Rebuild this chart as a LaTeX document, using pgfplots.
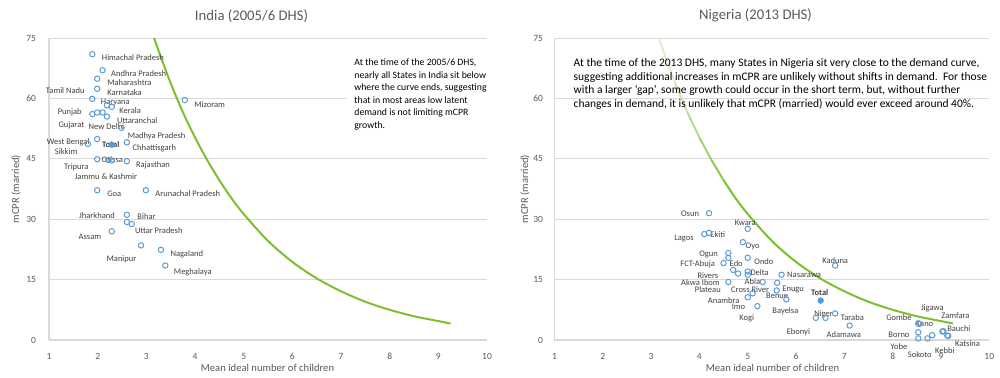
\documentclass[border=0pt]{standalone}
\usepackage{fontspec}
\setmainfont{Carlito}
\usepackage{pgfplots}
\pgfplotsset{compat=1.18}
\definecolor{ptblue}{RGB}{91,155,213}
\definecolor{curvegreen}{RGB}{125,190,50}
\definecolor{gridgrey}{RGB}{217,217,217}
\definecolor{ticktext}{RGB}{89,89,89}
\definecolor{labeltext}{RGB}{64,64,64}
\pgfplotsset{
  dhs/.style={
    scale only axis, height=151pt,
    xmin=1, xmax=10, ymin=0, ymax=75,
    xtick={1,2,...,10}, ytick={0,15,30,45,60,75},
    axis x line*=bottom, axis y line*=left,
    axis line style={gridgrey, line width=0.6pt},
    ymajorgrids, grid style={gridgrey, line width=0.5pt},
    major tick length=0pt,
    tick label style={font=\fontsize{4.75}{5}\selectfont, text=ticktext},
    xticklabel style={yshift=-3pt},
    /pgf/number format/assume math mode=true,
    clip=false,
  },
  pts/.style={only marks, mark=o, mark size=1.35pt, mark options={draw=ptblue, fill=white, line width=0.5pt}},
  tot/.style={only marks, mark=*, mark size=1.35pt, mark options={draw=ptblue, fill=ptblue, line width=0.5pt}},
}
\tikzset{lbl/.style={font=\fontsize{4.25}{5}\selectfont, text=labeltext, inner sep=0pt, text height=0.66em, text depth=0pt}}
\newcommand{\lab}[4]{\node[lbl,anchor=#3] at (axis cs:#1,#2) {#4};}
\begin{document}
\begin{tikzpicture}
\path[use as bounding box] (0,0) rectangle (500pt,188.5pt);
% ---------------- India ----------------
\begin{axis}[dhs, at={(24.5pt,18.5pt)}, anchor=south west, width=219pt,
  yticklabel style={xshift=-3pt}]
\addplot[curvegreen, line width=1pt, smooth] coordinates {
(3.16,75) (3.3,70.2) (3.5,63.8) (3.75,56.6) (4.0,50.3) (4.25,44.7) (4.5,39.7) (4.75,35.2) (5.0,31.3) (5.5,24.6) (6.0,19.4) (6.5,15.3) (7.0,12.1) (7.5,9.5) (8.0,7.5) (8.5,5.9) (9.0,4.7) (9.25,4.1)};
\addplot[pts] coordinates {
(1.89,71.0) (2.10,67.0) (1.99,64.9) (1.99,62.4) (1.89,59.9) (3.79,59.6)
(2.19,58.3) (2.29,57.9) (1.89,56.1) (1.99,56.5) (2.10,56.5) (2.19,55.5)
(2.49,52.7) (1.99,49.9) (1.80,48.7) (2.60,49.1) (1.99,44.9) (2.29,44.6)
(2.22,44.7) (2.60,44.4) (1.99,37.2) (2.99,37.2) (2.60,31.1) (2.60,29.3)
(2.70,28.8) (2.29,27.0) (2.89,23.5) (3.30,22.4) (3.39,18.5)};
\addplot[tot] coordinates {(2.29,48.5)};
\lab{2.08}{71.0}{west}{Himachal Pradesh}
\lab{2.27}{67.0}{west}{Andhra Pradesh}
\lab{2.19}{64.9}{west}{Maharashtra}
\lab{2.19}{62.4}{west}{Karnataka}
\lab{1.74}{62.9}{east}{Tamil Nadu}
\lab{2.06}{60.2}{west}{Haryana}
\lab{3.98}{59.5}{west}{Mizoram}
\lab{1.68}{57.7}{east}{Punjab}
\lab{2.44}{57.9}{west}{Kerala}
\lab{1.73}{54.5}{east}{Gujarat}
\lab{2.18}{54.0}{center}{New Delhi}
\lab{2.39}{55.5}{west}{Uttaranchal}
\lab{2.61}{51.8}{west}{Madhya Pradesh}
\lab{1.84}{50.1}{east}{West Bengal}
\lab{1.59}{47.7}{east}{Sikkim}
\lab{2.27}{49.4}{center}{\textbf{Total}}
\lab{2.71}{48.7}{west}{Chhattisgarh}
\lab{2.30}{45.8}{center}{Orissa}
\lab{1.82}{43.9}{east}{Tripura}
\lab{2.78}{44.4}{west}{Rajasthan}
\lab{2.17}{41.5}{center}{Jammu \& Kashmir}
\lab{2.19}{37.2}{west}{Goa}
\lab{3.18}{37.2}{west}{Arunachal Pradesh}
\lab{2.36}{31.7}{east}{Jharkhand}
\lab{2.81}{31.5}{west}{Bihar}
\lab{2.76}{28.1}{west}{Uttar Pradesh}
\lab{2.08}{26.6}{east}{Assam}
\lab{2.49}{21.1}{center}{Manipur}
\lab{3.49}{22.4}{west}{Nagaland}
\lab{3.56}{17.8}{west}{Meghalaya}
\end{axis}
% India text box
\fill[white] (173.5pt,167.5pt) rectangle (247.5pt,110pt);
\begin{scope}[every node/.style={anchor=base west, inner sep=0pt, font=\fontsize{4.875}{6}\selectfont, text=black}]
\node at (177pt,155.55pt) {At the time of the 2005/6 DHS,};
\node at (177pt,149.4pt) {nearly all States in India sit below};
\node at (177pt,143.25pt) {where the curve ends, suggesting};
\node at (177pt,136.9pt) {that in most areas low latent};
\node at (177pt,130.75pt) {demand is not limiting mCPR};
\node at (177pt,124.4pt) {growth.};
\end{scope}
% ---------------- Nigeria ----------------
\begin{axis}[dhs, at={(277.2pt,18.5pt)}, anchor=south west, width=217.45pt,
  yticklabel style={xshift=-2.2pt}]
\addplot[curvegreen!25, line width=1pt] coordinates {(3.16,75) (3.3,70.2) (3.5,63.8)};
\addplot[curvegreen!40, line width=1pt] coordinates {(3.5,63.8) (3.75,56.6)};
\addplot[curvegreen!55, line width=1pt] coordinates {(3.75,56.6) (4.0,50.3)};
\addplot[curvegreen!70, line width=1pt] coordinates {(4.0,50.3) (4.25,44.7)};
\addplot[curvegreen!85, line width=1pt] coordinates {(4.25,44.7) (4.5,39.7)};
\addplot[curvegreen, line width=1pt, smooth] coordinates {
(4.5,39.7) (4.75,35.2) (5.0,31.3) (5.5,24.6) (6.0,19.4) (6.5,15.3) (7.0,12.1) (7.5,9.5) (8.0,7.5) (8.5,5.9) (9.0,4.7) (9.25,4.1)};
\addplot[pts] coordinates {
(4.20,31.5) (5.00,27.6) (4.10,26.3) (4.20,26.6) (4.90,24.3) (4.60,21.6)
(4.60,20.4) (5.00,20.4) (4.50,19.1) (4.70,17.4) (4.80,16.5) (5.00,17.0)
(5.00,16.2) (5.70,16.2) (6.81,18.5) (4.60,14.4) (5.31,14.4) (5.61,14.2)
(5.60,12.3) (5.00,10.6) (5.10,11.6) (5.80,10.1) (5.20,8.4) (6.61,5.5)
(6.41,5.5) (6.81,6.6) (7.11,3.6) (8.53,4.1) (8.55,4.0) (8.53,1.9)
(8.53,0.4) (8.72,0.4) (8.82,1.2) (9.03,2.1) (9.05,2.2) (9.13,1.1) (9.15,1.0)};
\addplot[tot] coordinates {(6.51,9.8)};
\lab{4.00}{32.4}{east}{Osun}
\lab{4.95}{30.0}{center}{Kwara}
\lab{3.89}{26.3}{east}{Lagos}
\lab{4.22}{27.1}{west}{Ekiti}
\lab{4.95}{24.3}{west}{Oyo}
\lab{4.19}{22.5}{center}{Ogun}
\lab{4.33}{20.0}{east}{FCT-Abuja}
\lab{4.62}{19.8}{west}{Edo}
\lab{5.13}{20.5}{west}{Ondo}
\lab{4.40}{17.0}{east}{Rivers}
\lab{5.05}{17.6}{west}{Delta}
\lab{4.43}{15.3}{east}{Akwa Ibom}
\lab{4.93}{15.5}{west}{Abia}
\lab{5.81}{17.1}{west}{Nasarawa}
\lab{6.81}{20.7}{center}{Kaduna}
\lab{4.45}{13.5}{east}{Plateau}
\lab{5.05}{13.4}{center}{Cross River}
\lab{5.71}{13.7}{west}{Enugu}
\lab{5.61}{11.9}{center}{Benue}
\lab{6.49}{12.7}{center}{\textbf{Total}}
\lab{4.84}{10.8}{east}{Anambra}
\lab{4.81}{9.3}{center}{Imo}
\lab{5.78}{8.3}{center}{Bayelsa}
\lab{5.14}{6.6}{east}{Kogi}
\lab{6.57}{7.4}{center}{Niger}
\lab{6.92}{6.6}{west}{Taraba}
\lab{6.05}{3.1}{center}{Ebonyi}
\lab{6.99}{2.3}{center}{Adamawa}
\lab{8.82}{8.9}{center}{Jigawa}
\lab{9.30}{6.9}{center}{Zamfara}
\lab{8.13}{6.6}{center}{Gombe}
\lab{8.66}{5.0}{center}{Kano}
\lab{9.37}{3.7}{center}{Bauchi}
\lab{8.13}{2.3}{center}{Borno}
\lab{9.55}{0.0}{center}{Katsina}
\lab{8.13}{-0.6}{center}{Yobe}
\lab{9.08}{-1.8}{center}{Kebbi}
\lab{8.56}{-2.7}{center}{Sokoto}
\end{axis}
% Nigeria text
\begin{scope}[every node/.style={anchor=base west, inner sep=0pt, font=\fontsize{5.75}{6.7}\selectfont, text=black}]
\node at (286.65pt,155.1pt) {At the time of the 2013 DHS, many States in Nigeria sit very close to the demand curve,};
\node at (286.65pt,148.25pt) {suggesting additional increases in mCPR are unlikely without shifts in demand.\ \ For those};
\node at (286.65pt,141.6pt) {with a larger ‘gap’, some growth could occur in the short term, but, without further};
\node at (286.65pt,134.95pt) {changes in demand, it is unlikely that mCPR (married) would ever exceed around 40\%.};
\end{scope}
% titles and axis labels
\begin{scope}[every node/.style={inner sep=0pt, text=ticktext}]
\node[font=\fontsize{7.35}{8}\selectfont] at (125.75pt,180.5pt) {India (2005/6 DHS)};
\node[font=\fontsize{7.35}{8}\selectfont] at (377.75pt,181pt) {Nigeria (2013 DHS)};
\node[font=\fontsize{5.3}{6}\selectfont] at (133.75pt,4.65pt) {Mean ideal number of children};
\node[font=\fontsize{5.3}{6}\selectfont] at (386.25pt,4.65pt) {Mean ideal number of children};
\node[font=\fontsize{5.3}{6}\selectfont, rotate=90] at (8pt,94pt) {mCPR (married)};
\node[font=\fontsize{5.3}{6}\selectfont, rotate=90] at (262.5pt,94pt) {mCPR (married)};
\end{scope}
\end{tikzpicture}
\end{document}
